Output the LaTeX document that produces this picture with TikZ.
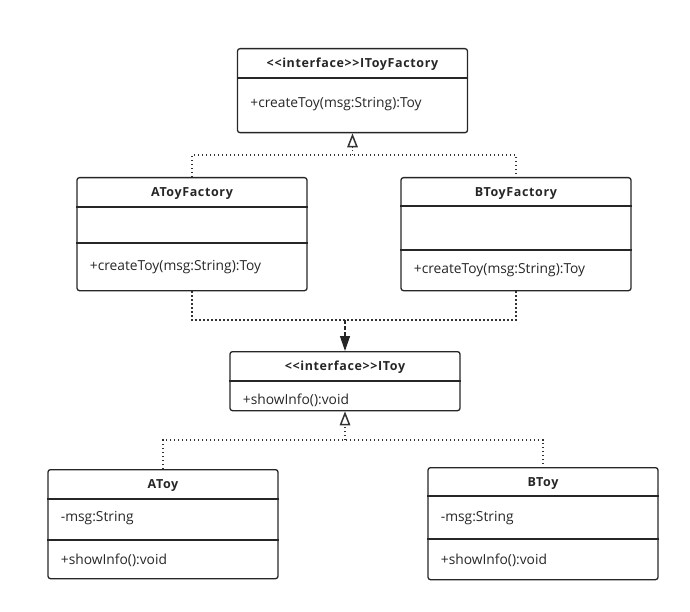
\documentclass[tikz,border=0pt]{standalone}
\usepackage{fontspec}
\setmainfont{Open Sans}[Ligatures=NoCommon]
\usetikzlibrary{arrows.meta}
\tikzset{
  cls/.style={draw=black!85, rounded corners=2.5pt, line width=1.3pt, minimum width=230pt, inner sep=0pt, anchor=north},
  sep/.style={draw=black!85, line width=1.3pt},
  ttl/.style={font=\fontsize{12.5}{14}\selectfont\bfseries\addfontfeature{LetterSpace=5}, text=black!85},
  mem/.style={anchor=west, font=\fontsize{13.8}{15}\selectfont, text=black!85},
  rel/.style={draw=black!80, line width=1.3pt, dash pattern=on 1.3pt off 2.7pt},
  realize/.style={-{Triangle[open, width=10.5pt, length=14pt, line width=1.5pt]}},
}
\begin{document}
\begin{tikzpicture}[x=1pt,y=-1pt]
\useasboundingbox (0,0) rectangle (690,612);
% factories
\node[cls, minimum height=84pt] (ifac) at (352.5,48) {};
\node[cls, minimum height=113pt] (afac) at (192,177) {};
\node[cls, minimum height=113pt] (bfac) at (516,177) {};
% products
\node[cls, minimum height=59pt] (itoy) at (345,351) {};
\node[cls, minimum height=109pt] (atoy) at (163,469) {};
\node[cls, minimum height=112pt] (btoy) at (543,467) {};
% compartments
\foreach \c/\d in {ifac/30,afac/30,afac/66,bfac/29,bfac/73,itoy/30,atoy/30,atoy/71,btoy/29,btoy/72}
  \draw[sep] ([yshift=-\d pt]\c.north west) -- ([yshift=-\d pt]\c.north east);
% titles
\node[ttl] (ifact) at ([yshift=-16.5pt]ifac.north) {{<}{<}interface{>}{>}IToyFactory};
\node[ttl] (afact) at ([yshift=-16.5pt]afac.north) {AToyFactory};
\node[ttl] (bfact) at ([yshift=-16.5pt]bfac.north) {BToyFactory};
\node[ttl] (itoyt) at ([yshift=-16.5pt]itoy.north) {{<}{<}interface{>}{>}IToy};
\node[ttl] (atoyt) at ([yshift=-16.5pt]atoy.north) {AToy};
\node[ttl] (btoyt) at ([yshift=-16.5pt]btoy.north) {BToy};
% members
\node[mem] (ifacm) at ([xshift=10pt,yshift=-56.5pt]ifac.north west) {+createToy(msg:String):Toy};
\node[mem] (afacm) at ([xshift=10pt,yshift=-90pt]afac.north west) {+createToy(msg:String):Toy};
\node[mem] (bfacm) at ([xshift=10pt,yshift=-93pt]bfac.north west) {+createToy(msg:String):Toy};
\node[mem] (itoym) at ([xshift=10pt,yshift=-49pt]itoy.north west) {+showInfo():void};
\node[mem] (atoya) at ([xshift=10pt,yshift=-49pt]atoy.north west) {-msg:String};
\node[mem] (atoym) at ([xshift=10pt,yshift=-91pt]atoy.north west) {+showInfo():void};
\node[mem] (btoya) at ([xshift=10pt,yshift=-51pt]btoy.north west) {-msg:String};
\node[mem] (btoym) at ([xshift=10pt,yshift=-93pt]btoy.north west) {+showInfo():void};
% relations
\coordinate (j1) at (352.5,155);
\coordinate (j2) at (345,320);
\coordinate (j3) at (345,440);
\draw[rel] (afac.north) |- (j1) -| (bfac.north);
\draw[rel, realize] (j1) -- (ifac.south);
\draw[rel] (afac.south) |- (j2) -| (bfac.south);
\draw[draw=black!85, line width=1.3pt, dash pattern=on 4pt off 2pt,
  -{Triangle[width=10pt, length=15pt]}, black!85] (j2) -- (itoy.north);
\draw[rel] (atoy.north) |- (j3) -| (btoy.north);
\draw[rel, realize] (j3) -- (itoy.south);
\end{tikzpicture}
\end{document}
